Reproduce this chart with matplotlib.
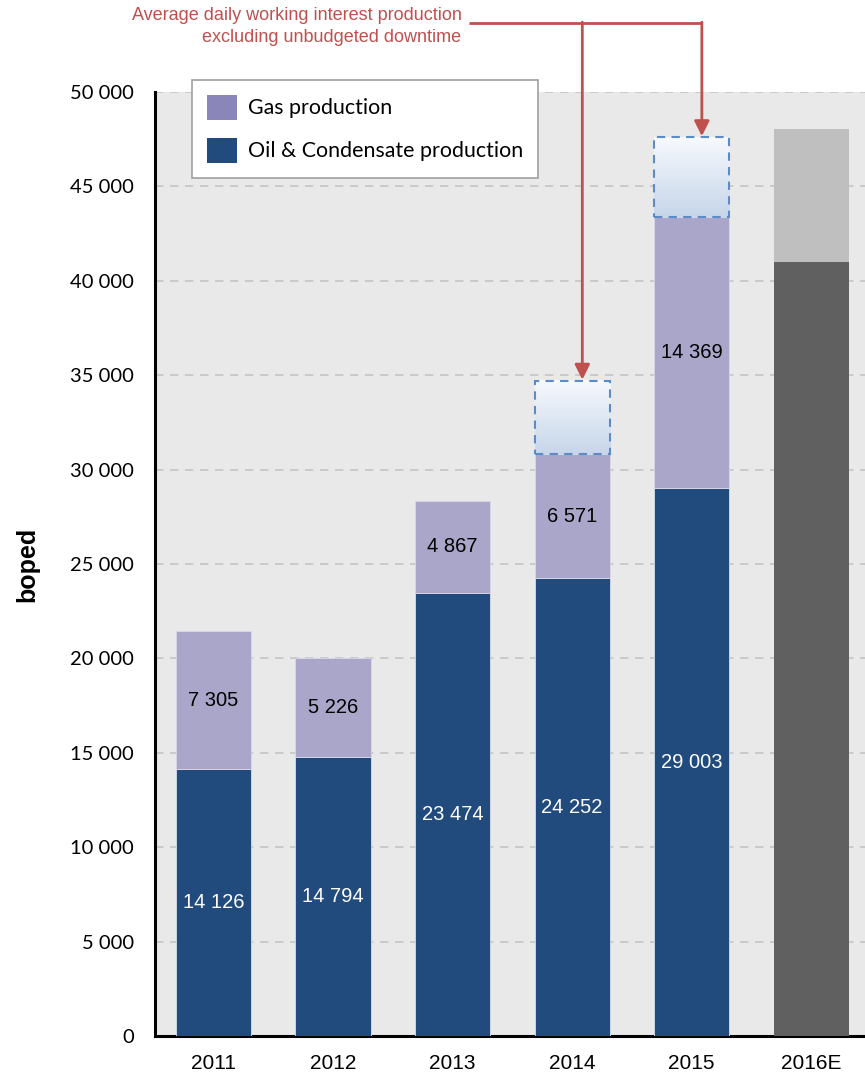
import matplotlib
matplotlib.use("Agg")
import matplotlib.pyplot as plt
import numpy as np
from matplotlib.patches import Rectangle, Patch
from matplotlib.ticker import FuncFormatter
from matplotlib.colors import LinearSegmentedColormap

# ---- data ----
years = ["2011", "2012", "2013", "2014", "2015", "2016E"]
oil = [14126, 14794, 23474, 24252, 29003]
gas = [7305, 5226, 4867, 6571, 14369]
excl_downtime_top = {3: 34700, 4: 47600}
est_2016_dark = 41000
est_2016_total = 48040
yticks = list(range(0, 50001, 5000))

# ---- style ----
c_gas = "#AAA6CA"
c_gas_leg = "#8B86BA"
c_oil = "#214A7D"
c_red = "#C0504D"
c_blue = "#5B8CC8"

fig = plt.figure(figsize=(8.65, 10.77), dpi=100)
ax = fig.add_axes([155/865, 1-1036/1077, 1-155/865, (1036-92)/1077])
ax.set_facecolor("#E9E9E9")

x = np.arange(len(years))
w = 0.63
n = len(oil)
ax.bar(x[:n], oil, w, color=c_oil, edgecolor="#D8DCE8", linewidth=0.6, zorder=3)
ax.bar(x[:n], gas, w, bottom=oil, color=c_gas, edgecolor="#D8D8E8", linewidth=0.6, zorder=3)
ax.bar(x[5], est_2016_dark, w, color="#606060", zorder=3)
ax.bar(x[5], est_2016_total - est_2016_dark, w, bottom=est_2016_dark, color="#BFBFBF", zorder=3)

# labels
for i in range(n):
    ax.text(x[i], oil[i]/2, f"{oil[i]:,}".replace(",", " "), ha="center", va="center",
            color="white", fontsize=14.5, family="Liberation Sans", zorder=5)
    ax.text(x[i], oil[i] + gas[i]/2, f"{gas[i]:,}".replace(",", " "), ha="center", va="center",
            color="black", fontsize=14.5, family="Liberation Sans", zorder=5)

# dashed gradient boxes
grad = np.linspace(0, 1, 100).reshape(-1, 1)
cmap = LinearSegmentedColormap.from_list("g", ["#C6D6EA", "#F7F9FD"])
for i, top in excl_downtime_top.items():
    bot = oil[i] + gas[i]
    ax.imshow(grad, extent=(x[i]-w/2, x[i]+w/2, bot, top), origin="lower", cmap=cmap,
              aspect="auto", zorder=4)
    ax.add_patch(Rectangle((x[i]-w/2, bot), w, top-bot, fill=False, edgecolor=c_blue,
                           linestyle=(0, (4, 3)), linewidth=1.5, zorder=5))

ax.set_xlim(-0.49, 5.45)
ax.set_ylim(0, 50000)
ax.set_yticks(yticks)
ax.yaxis.set_major_formatter(FuncFormatter(lambda v, p: f"{int(v):,}".replace(",", " ")))
ax.set_xticks(x)
ax.set_xticklabels(years, family=["Liberation Sans Narrow", "Liberation Sans"], fontsize=15)
for lab in ax.get_yticklabels():
    lab.set_family("Lato")
    lab.set_fontsize(14.5)
ax.tick_params(axis="both", length=0)
ax.tick_params(axis="y", pad=15)
ax.tick_params(axis="x", pad=13)
ax.yaxis.grid(True, color="#C4C4C4", linestyle=(0, (5, 4)), linewidth=1.2, zorder=1)
ax.set_axisbelow(True)
for s in ["top", "right"]:
    ax.spines[s].set_visible(False)
ax.spines["left"].set_linewidth(2.2)
ax.spines["bottom"].set_linewidth(2.2)
ax.set_ylabel("boped", fontsize=18, fontweight="bold", family="Liberation Sans", labelpad=22)

# legend
handles = [Patch(facecolor=c_gas_leg, label="Gas production"),
           Patch(facecolor=c_oil, label="Oil & Condensate production")]
leg = ax.legend(handles=handles, loc="upper left", bbox_to_anchor=(0.052, 1.0127),
                prop={"family": "Lato", "size": 15.4}, frameon=True, fancybox=False,
                edgecolor="#A0A0A0", framealpha=1, handlelength=1.4, handleheight=1.4,
                borderpad=0.7, labelspacing=0.85, handletextpad=0.5, borderaxespad=0)
leg.get_frame().set_linewidth(1.2)
leg.set_zorder(6)

# annotation
y_line = 53650
x_start = 2.14
x_a14 = 3.085
x_a15 = 4.085
ax.plot([x_start, x_a15], [y_line, y_line], color=c_red, lw=2, clip_on=False, zorder=7,
        solid_capstyle="butt")
for xa, key in ((x_a14, 3), (x_a15, 4)):
    ax.annotate("", xy=(xa, excl_downtime_top[key] + 60), xytext=(xa, y_line + 50),
                arrowprops=dict(arrowstyle="-|>,head_length=0.9,head_width=0.45", color=c_red,
                                lw=2, shrinkA=0, shrinkB=0), annotation_clip=False, zorder=7)
ax.text(2.075, y_line - 200, "Average daily working interest production\nexcluding unbudgeted downtime",
        ha="right", va="center", color=c_red, fontsize=13, family="Liberation Sans",
        linespacing=1.38, clip_on=False)

fig.savefig("out.png", dpi=100)
